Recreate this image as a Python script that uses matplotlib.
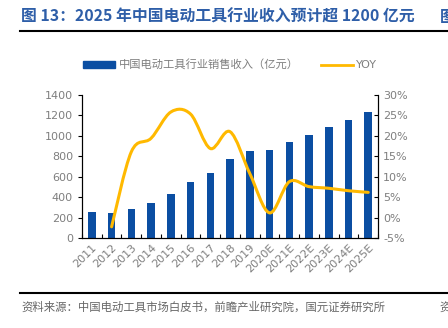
import numpy as np
import matplotlib
matplotlib.use('Agg')
import matplotlib.pyplot as plt
from matplotlib.path import Path
from matplotlib.patches import PathPatch
from matplotlib.lines import Line2D
from matplotlib.patches import Rectangle

plt.rcParams['font.family'] = ['Noto Sans CJK SC', 'DejaVu Sans']

years = ['2011', '2012', '2013', '2014', '2015', '2016', '2017', '2018', '2019',
         '2020E', '2021E', '2022E', '2023E', '2024E', '2025E']
revenue = [255, 250, 285, 344, 435, 546, 640, 773, 851, 861, 939, 1010, 1082, 1156, 1231]
yoy = [None, -2.2, 16.1, 19.4, 25.8, 25.3, 16.9, 21.0, 10.8, 1.2, 8.8, 7.6, 7.2, 6.6, 6.2]

bar_color = '#0B4EA2'
line_color = '#FFB900'
gray = '#7F7F7F'


def smooth_path(xs, ys, t=0.5):
    # catmull-rom style bezier through the points
    pts = np.column_stack([xs, ys]).astype(float)
    verts = [pts[0]]
    codes = [Path.MOVETO]
    n = len(pts)
    for i in range(n - 1):
        p0 = pts[i - 1] if i > 0 else pts[i]
        p1 = pts[i]
        p2 = pts[i + 1]
        p3 = pts[i + 2] if i + 2 < n else pts[i + 1]
        c1 = p1 + (p2 - p0) * t / 3
        c2 = p2 - (p3 - p1) * t / 3
        verts += [c1, c2, p2]
        codes += [Path.CURVE4] * 3
    return Path(verts, codes)


fig = plt.figure(figsize=(4.48, 3.28), dpi=100)
ax = fig.add_axes([0.183, 0.2735, 0.661, 0.4375])
x = np.arange(len(years))
ax.bar(x, revenue, width=0.38, color=bar_color, zorder=2)
ax.set_xlim(-0.5, len(years) - 0.5)
ax.set_ylim(0, 1400)
ax.set_yticks(range(0, 1401, 200))
ax.tick_params(axis='y', labelsize=8, labelcolor=gray, length=3, width=0.8, direction='out')
ax.set_xticks(x)
ax.set_xticklabels(years, rotation=45, ha='right', rotation_mode='anchor', fontsize=8, color=gray,
                   family='DejaVu Sans')
ax.tick_params(axis='x', length=0, pad=3)
ax.set_xticks(np.arange(-0.5, len(years)), minor=True)
ax.tick_params(axis='x', which='minor', length=3, direction='in', width=0.8)
for lab in ax.get_yticklabels():
    lab.set_family('DejaVu Sans')
ax.spines['top'].set_visible(False)

ax2 = ax.twinx()
ax2.set_ylim(-5, 30)
ax2.set_yticks(range(-5, 31, 5))
ax2.set_yticklabels([f'{v}%' for v in range(-5, 31, 5)], family='DejaVu Sans')
ax2.tick_params(axis='y', labelsize=8, labelcolor=gray, length=3, width=0.8, direction='in')
ax2.spines['top'].set_visible(False)

yx = [i for i, v in enumerate(yoy) if v is not None]
yv = [v for v in yoy if v is not None]
ax2.add_patch(PathPatch(smooth_path(yx, yv), facecolor='none', edgecolor=line_color, lw=2.2, zorder=3,
                        capstyle='round'))

# title
fig.text(0.047, 0.948, '图 13：2025 年中国电动工具行业收入预计超 1200 亿元', fontsize=11.4,
         fontweight='bold', color='#2E5EA8', va='center')
fig.text(0.982, 0.948, '图', fontsize=11.4, fontweight='bold', color='#2E5EA8', va='center')
fig.add_artist(Line2D([0.045, 1.0], [0.905, 0.905], color='black', lw=1.5))
fig.add_artist(Line2D([0.045, 1.0], [0.107, 0.107], color='black', lw=1.5))
fig.text(0.047, 0.064, '资料来源：中国电动工具市场白皮书，前瞻产业研究院，国元证券研究所', fontsize=8.2,
         color='#666666', va='center')
fig.text(0.982, 0.064, '资', fontsize=8.2, color='#666666', va='center')

# legend
fig.add_artist(Rectangle((0.186, 0.793), 0.071, 0.02, transform=fig.transFigure, color=bar_color))
fig.text(0.266, 0.803, '中国电动工具行业销售收入（亿元）', fontsize=8.1, color=gray, va='center')
fig.add_artist(Line2D([0.717, 0.788], [0.803, 0.803], color=line_color, lw=2))
fig.text(0.795, 0.803, 'YOY', fontsize=8, color=gray, va='center', family='DejaVu Sans')

fig.savefig('out.png', dpi=100)
